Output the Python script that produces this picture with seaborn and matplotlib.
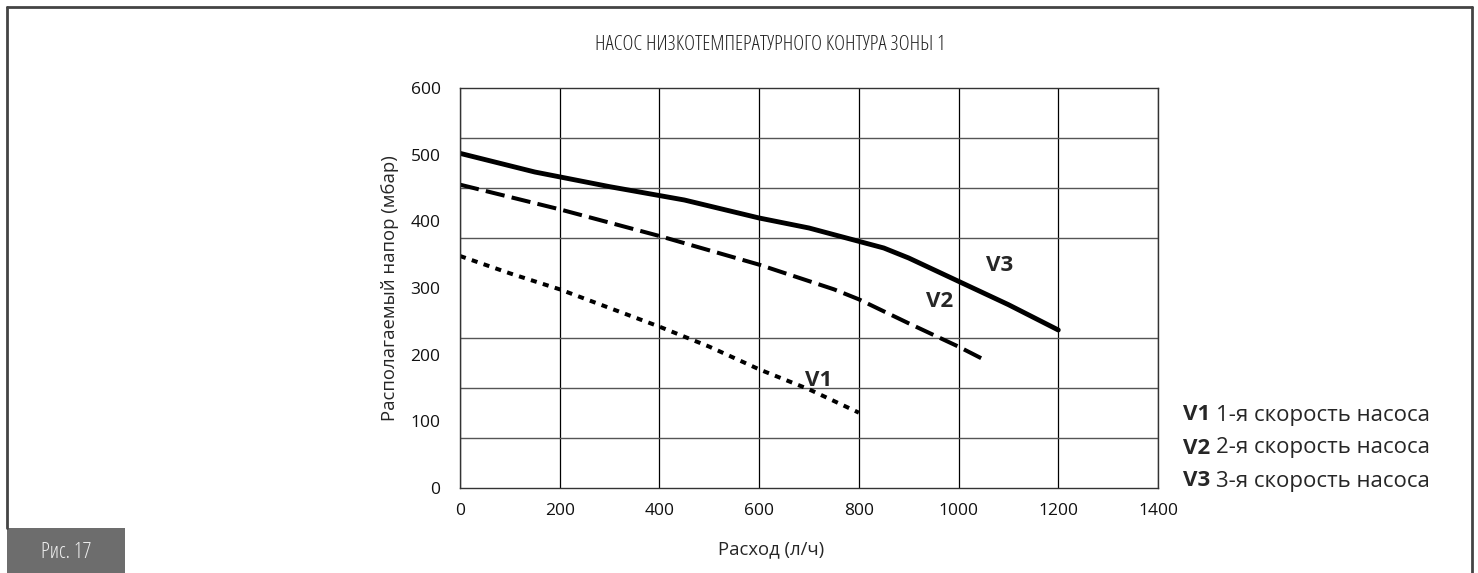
import numpy as np
import pandas as pd
import matplotlib.pyplot as plt
import seaborn as sns
from matplotlib.ticker import MultipleLocator
from matplotlib.lines import Line2D
from matplotlib.patches import Rectangle

# кривые насоса
v1_flow = [0, 100, 200, 300, 400, 500, 600, 700, 800]
v1_head = [348, 322, 298, 270, 242, 212, 178, 148, 113]

v2_flow = [0, 200, 400, 600, 750, 800, 900, 1000, 1055]
v2_head = [455, 418, 378, 335, 298, 283, 247, 212, 191]

v3_flow = [0, 150, 300, 450, 600, 700, 850, 900, 1000, 1100, 1200]
v3_head = [502, 474, 452, 432, 405, 390, 360, 345, 310, 275, 237]

speeds = ["V1", "V2", "V3"]
legend_texts = ["1-я скорость насоса", "2-я скорость насоса", "3-я скорость насоса"]
label_pos = {"V1": (720, 162), "V2": (963, 279), "V3": (1083, 334)}

title = "НАСОС НИЗКОТЕМПЕРАТУРНОГО КОНТУРА ЗОНЫ 1"
xlabel = "Расход (л/ч)"
ylabel = "Располагаемый напор (мбар)"

df = pd.concat([
    pd.DataFrame({"flow": v1_flow, "head": v1_head, "speed": "V1"}),
    pd.DataFrame({"flow": v2_flow, "head": v2_head, "speed": "V2"}),
    pd.DataFrame({"flow": v3_flow, "head": v3_head, "speed": "V3"}),
])

sns.set_style("white")
plt.rcParams['font.family'] = ['Open Sans', 'DejaVu Sans']

W, H = 1478, 573
fig = plt.figure(figsize=(W / 100, H / 100), dpi=100)
ax = fig.add_axes([460 / W, 1 - 488 / H, 698 / W, 400 / H])

sns.lineplot(data=df, x="flow", y="head", style="speed", hue="speed", size="speed",
             palette={s: "black" for s in speeds},
             sizes={"V1": 2.9, "V2": 2.9, "V3": 3.5},
             dashes={"V1": (1.5, 1.6), "V2": (4.8, 1.8), "V3": ""},
             estimator=None, sort=False, legend=False, ax=ax)

ax.set_xlim(0, 1400)
ax.set_ylim(0, 600)
ax.xaxis.set_major_locator(MultipleLocator(200))
ax.yaxis.set_major_locator(MultipleLocator(100))
ax.yaxis.set_minor_locator(MultipleLocator(75))
ax.tick_params(axis='both', which='both', length=0, labelsize=12.5, colors='#111')
ax.tick_params(axis='y', pad=14)
ax.tick_params(axis='x', pad=11)
ax.grid(True, axis='x', which='major', color='black', linewidth=0.9)
ax.grid(True, axis='y', which='minor', color='#555555', linewidth=1.0)
ax.grid(False, axis='y', which='major')
ax.set_axisbelow(True)
for sp in ax.spines.values():
    sp.set_color('#333333')
    sp.set_linewidth(1.0)

ax.set_xlabel(xlabel, fontsize=13.3)
ax.set_ylabel(ylabel, fontsize=13.3)
ax.xaxis.set_label_coords((771 - 460) / 698, -(549 - 488) / 400)
ax.yaxis.set_label_coords(-(460 - 390) / 698, 0.5)
ax.xaxis.label.set_va('center')
ax.yaxis.label.set_va('center')

for s in speeds:
    x, y = label_pos[s]
    ax.text(x, y, s, fontsize=16, fontweight='bold', ha='center', va='center')

fig.text(770 / W, 1 - 45 / H, title, family='Open Sans', fontstretch='condensed',
         fontweight='light', fontsize=15, ha='center', va='center', color='#222')

for i, (s, t) in enumerate(zip(speeds, legend_texts)):
    yy = 1 - (415 + i * 33) / H
    lab = fig.text(1183 / W, yy, s + " ", fontsize=16, fontweight='bold',
                   ha='left', va='center')
    fig.canvas.draw()
    bb = lab.get_window_extent()
    fig.text(bb.x1 / W, yy, t, fontsize=16, ha='left', va='center')

# рамка
fig.add_artist(Line2D([7 / W, 7 / W], [1 - 7 / H, 1 - 528 / H], color='#444', lw=2))
fig.add_artist(Line2D([7 / W, 1472 / W], [1 - 7 / H, 1 - 7 / H], color='#444', lw=2))
fig.add_artist(Line2D([1472 / W, 1472 / W], [1 - 7 / H, 0], color='#444', lw=2))

fig.add_artist(Rectangle((7 / W, 0), 118 / W, 45 / H, transform=fig.transFigure,
                         facecolor='#6d6d6d', edgecolor='none'))
fig.text(66 / W, 1 - 552 / H, "Рис. 17", family='Open Sans', fontstretch='condensed',
         fontweight='light', fontsize=15.5, color='#eeeeee', ha='center', va='center')

fig.savefig("out.png", dpi=100)
